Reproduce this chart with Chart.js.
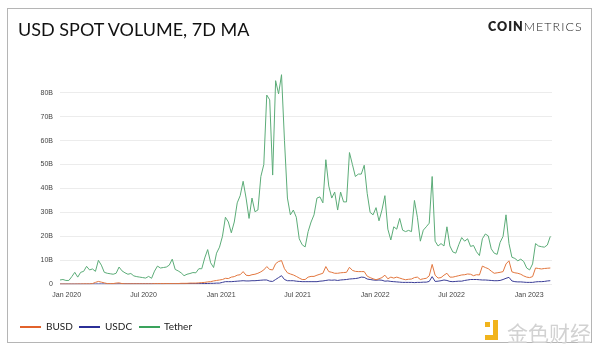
<!DOCTYPE html>
<html>
<head>
<meta charset="utf-8">
<script src="https://cdn.jsdelivr.net/npm/chart.js@4"></script>
<style>
  html, body { margin: 0; padding: 0; background: #fff; }
  #wrap { position: relative; width: 600px; height: 353px; overflow: hidden; }
  #frame { position: absolute; left: 7px; top: 8px; width: 583px; height: 333px; border: 1.5px solid #b5b5b5; }
  #title { position: absolute; left: 18px; top: 18px; font: 18px Lato, sans-serif; color: #111; white-space: nowrap; }
  #logo { position: absolute; left: 488px; top: 19px; font: 12.5px Lato, sans-serif; color: #222; letter-spacing: 1px; white-space: nowrap; }
  #logo b { font-weight: 800; }
  #logo span { font-weight: 300; }
  .lg-line { position: absolute; top: 326px; width: 21px; height: 2px; }
  .lg-text { position: absolute; top: 320px; font: 10px Lato, sans-serif; color: #222; }
  #wm { position: absolute; left: 507px; top: 317px; font: 21px "Noto Sans CJK SC", sans-serif; color: #d2d2d2; white-space: nowrap; }
  .wm-box { position: absolute; background: #f1b41c; }
  canvas { position: absolute; left: 0; top: 0; }
</style>
</head>
<body>
<div id="wrap">
  <div id="frame"></div>
  <canvas id="chart" width="600" height="353"></canvas>
  <div id="title">USD SPOT VOLUME, 7D MA</div>
  <div id="logo"><b>COIN</b><span>METRICS</span></div>
  <div class="lg-line" style="left:20px;background:#e2622b"></div>
  <div class="lg-text" style="left:46px">BUSD</div>
  <div class="lg-line" style="left:79px;background:#2b2f97"></div>
  <div class="lg-text" style="left:105px">USDC</div>
  <div class="lg-line" style="left:139px;background:#3aa35c"></div>
  <div class="lg-text" style="left:164px">Tether</div>
  <div class="wm-box" style="left:485px;top:322px;width:5px;height:5px"></div>
  <div class="wm-box" style="left:493px;top:320px;width:5px;height:20px"></div>
  <div class="wm-box" style="left:485px;top:335px;width:13px;height:5px"></div>
  <div id="wm">金色财经</div>
</div>
<script>
// days counted from 1 Jan 2020, one value per week (7D MA, billions USD)
const startDay = -16;
const stepDays = 7;

const tickDays = [0, 182, 366, 547, 731, 912, 1096];
const tickLabels = ['Jan 2020', 'Jul 2020', 'Jan 2021', 'Jul 2021', 'Jan 2022', 'Jul 2022', 'Jan 2023'];

const tether = [
  1.8, 2.0, 1.6, 1.6, 3.2, 5.0, 3.0, 5.0, 5.4, 7.5,
  6.0, 6.4, 5.4, 10.0, 8.0, 5.0, 4.6, 4.4, 4.2, 4.6,
  7.2, 5.6, 4.8, 4.2, 4.5, 3.5, 3.2, 3.0, 2.8, 2.6,
  3.3, 2.5, 5.5, 7.6, 6.8, 7.0, 7.2, 8.0, 10.5, 6.2,
  5.6, 4.8, 3.6, 4.2, 4.5, 4.9, 4.8, 6.5, 6.5, 11,
  14.5, 9, 7.0, 13, 15.5, 20, 28, 26, 21.5, 26,
  34, 37, 43, 36, 27.5, 36, 30.3, 31, 45, 50,
  79, 77, 45.6, 85, 79.5, 87.5, 60, 36, 29, 31,
  28, 19, 16.5, 15.6, 22, 26, 29, 36, 36.5, 34,
  52, 41, 36, 38.5, 31, 38.5, 34.4, 34.4, 55, 50,
  45, 46, 46, 49.7, 38, 30, 29, 32, 26.5, 31,
  37, 23, 18.5, 24, 23, 27.5, 22.6, 22, 22.5, 22,
  35, 28, 18, 22.6, 24, 25.5, 45, 18, 16, 17,
  16, 24, 16, 13.5, 13, 16.5, 19.5, 18, 19, 15.8,
  16.2, 13.6, 12, 19, 21, 20.2, 14.8, 13, 12.5, 17.5,
  20, 29, 17, 11.3, 10.8, 9.8, 10.5, 9.5, 6.8, 6.0,
  8.5, 17, 16, 15.7, 15.5, 16.4, 20
];

const busd = [
  0.1, 0.1, 0.1, 0.1, 0.1, 0.1, 0.15, 0.15, 0.2, 0.2,
  0.2, 0.3, 0.8, 1.2, 0.9, 0.6, 0.3, 0.3, 0.3, 0.5,
  0.6, 0.3, 0.2, 0.2, 0.2, 0.2, 0.2, 0.2, 0.2, 0.2,
  0.2, 0.2, 0.3, 0.3, 0.3, 0.3, 0.3, 0.3, 0.3, 0.3,
  0.3, 0.4, 0.4, 0.4, 0.5, 0.5, 0.5, 0.6, 0.7, 0.8,
  1.0, 1.1, 1.4, 1.6, 1.8, 2.0, 2.5, 2.4, 3.0, 3.2,
  3.8, 4.0, 5.3, 3.8, 3.6, 4.0, 4.2, 4.6, 5.2, 6.0,
  7.4, 6.2, 6.0, 8.6, 9.5, 9.9, 6.5, 4.8, 4.3, 3.9,
  3.3, 2.6, 2.0, 2.0, 3.0, 3.3, 3.3, 3.8, 4.2, 4.6,
  7.4, 5.3, 5.0, 4.6, 4.6, 4.8, 4.9, 5.0, 7.1, 5.8,
  5.4, 5.3, 5.3, 5.3, 3.4, 2.8, 2.3, 1.9, 2.3, 2.8,
  3.8, 2.3, 3.0, 2.6, 3.0, 2.6, 2.2, 1.9, 2.1, 2.2,
  2.8, 3.0, 2.0, 2.3, 2.5, 3.5, 8.3, 3.8, 2.6, 2.8,
  3.8, 4.6, 3.0, 3.0, 3.3, 3.6, 3.9, 4.0, 4.3, 4.2,
  3.6, 4.0, 3.9, 7.6, 7.0, 6.5, 5.5, 4.6, 4.8, 5.0,
  5.3, 8.5, 9.8, 5.2, 4.8, 4.6, 4.2, 3.5, 3.0, 2.8,
  3.2, 6.8, 6.6, 6.4, 6.6, 6.7, 6.8
];

const usdc = [
  0.1, 0.1, 0.1, 0.1, 0.1, 0.1, 0.1, 0.1, 0.1, 0.1,
  0.1, 0.15, 0.15, 0.15, 0.15, 0.15, 0.15, 0.15, 0.15, 0.15,
  0.2, 0.2, 0.2, 0.2, 0.2, 0.2, 0.2, 0.2, 0.2, 0.2,
  0.2, 0.2, 0.2, 0.2, 0.2, 0.2, 0.25, 0.25, 0.25, 0.25,
  0.25, 0.25, 0.25, 0.3, 0.3, 0.3, 0.3, 0.3, 0.3, 0.3,
  0.35, 0.4, 0.4, 0.5, 0.5, 0.8, 1.1, 1.1, 1.1, 1.2,
  1.3, 1.4, 1.5, 1.4, 1.4, 1.5, 1.5, 1.6, 1.7, 1.8,
  1.8, 1.3, 1.2, 2.0, 2.8, 3.6, 2.0, 1.5, 1.5, 1.5,
  1.3, 1.2, 1.1, 1.1, 1.1, 1.1, 1.1, 1.1, 1.3, 1.4,
  1.6, 1.8, 1.7, 1.8, 1.6, 1.8, 1.9, 2.0, 2.2, 2.3,
  2.4, 2.6, 3.0, 2.9, 2.2, 2.0, 1.8, 1.7, 1.8, 1.7,
  1.3, 1.4, 1.2, 1.1, 1.0, 0.9, 0.8, 0.8, 0.8, 0.8,
  0.7, 0.8, 0.8, 0.9, 0.9, 1.2, 3.2, 1.2, 1.3, 1.5,
  1.8, 1.6, 1.2, 1.1, 1.2, 1.3, 1.3, 1.6, 1.8, 2.0,
  2.0, 2.0, 1.9, 1.8, 1.8, 1.7, 1.6, 1.5, 1.5, 1.6,
  2.0, 2.5, 2.9, 1.4, 1.1, 1.0, 1.0, 0.9, 0.8, 0.8,
  0.8, 1.0, 1.1, 1.1, 1.2, 1.4, 1.5
];

const toPoints = arr => arr.map((v, i) => ({ x: startDay + i * stepDays, y: v }));

const lineStyle = { borderWidth: 1, pointRadius: 0, tension: 0, fill: false };

new Chart(document.getElementById('chart'), {
  type: 'line',
  data: {
    datasets: [
      { label: 'BUSD', data: toPoints(busd), borderColor: '#e2773f', ...lineStyle },
      { label: 'USDC', data: toPoints(usdc), borderColor: '#3a3d96', ...lineStyle },
      { label: 'Tether', data: toPoints(tether), borderColor: '#5cac78', ...lineStyle }
    ]
  },
  options: {
    responsive: false,
    animation: false,
    layout: { padding: { left: 0, top: 68.7, right: 48, bottom: 48.7 } },
    plugins: { legend: { display: false }, tooltip: { enabled: false } },
    scales: {
      x: {
        type: 'linear',
        min: -16,
        max: 1150,
        afterFit: s => { s.height = 20; },
        afterBuildTicks: s => { s.ticks = tickDays.map(v => ({ value: v })); },
        grid: { display: false, drawTicks: false },
        border: { display: false },
        ticks: {
          padding: 7,
          maxRotation: 0,
          autoSkip: false,
          color: '#444',
          font: { family: 'Liberation Sans', size: 7 },
          callback: v => tickLabels[tickDays.indexOf(v)]
        }
      },
      y: {
        min: 0,
        max: 90,
        afterFit: s => { s.width = 60; },
        grid: { color: '#ececec', drawTicks: false },
        border: { display: false },
        ticks: {
          stepSize: 10,
          padding: 7,
          color: '#444',
          font: { family: 'Liberation Sans', size: 7 },
          callback: v => (v === 90 ? null : v === 0 ? '0' : v + 'B')
        }
      }
    }
  }
});
</script>
</body>
</html>
